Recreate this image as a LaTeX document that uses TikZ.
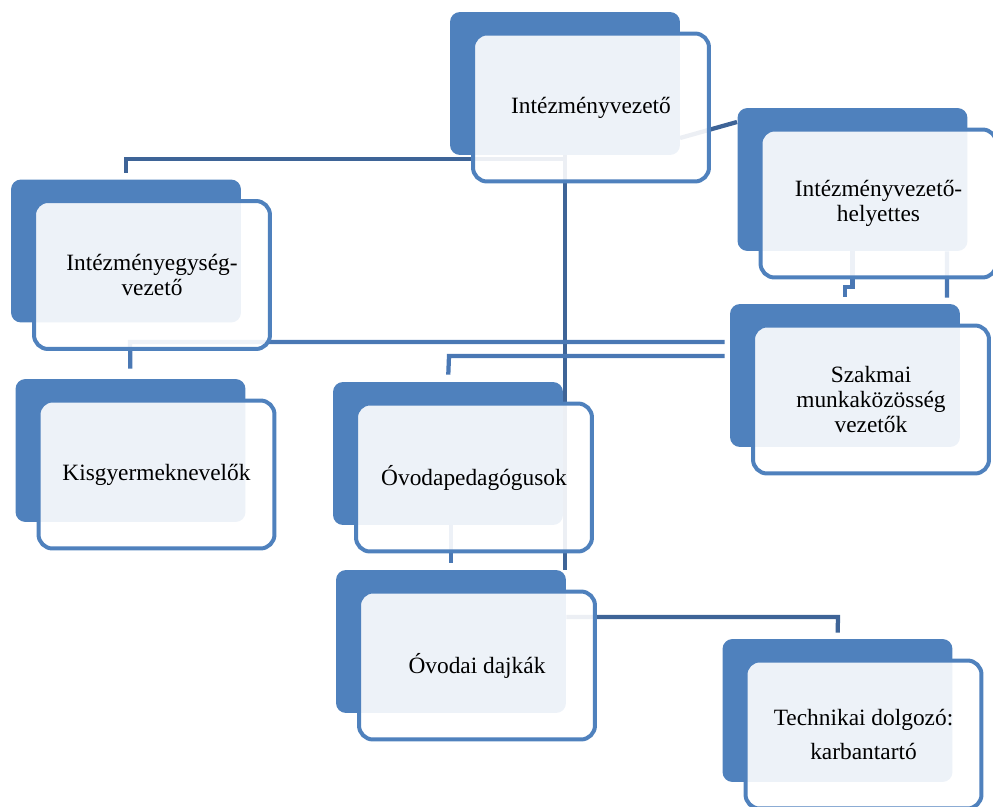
\documentclass[tikz,border=0pt]{standalone}
\usepackage{fontspec}
\setmainfont{Liberation Serif}
\usetikzlibrary{backgrounds}
\definecolor{kek}{HTML}{4F81BD}
\definecolor{vonalkek}{HTML}{3E6497}
\definecolor{vonalkek2}{HTML}{4A78B4}
\begin{document}
\begin{tikzpicture}[x=0.02cm,y=-0.02cm]
\tikzset{hatter/.style={rectangle,rounded corners=0.2cm,fill=kek,minimum width=4.6cm,minimum height=2.86cm,inner sep=0}}
\tikzset{doboz/.style={rectangle,rounded corners=0.28cm,draw=kek,line width=0.08cm,fill=white,fill opacity=0.9,text opacity=1,minimum width=4.72cm,minimum height=2.96cm,inner sep=0,align=center,font=\fontsize{13.3}{14.2}\selectfont}}
\tikzset{vonal/.style={draw=vonalkek,line width=0.085cm}}
\tikzset{vonal2/.style={draw=vonalkek2,line width=0.085cm}}
\useasboundingbox (0,0) rectangle (993,807);
\node [hatter] (a0) at (565,83.5) {};
\node [doboz] (a) at (591,107.5) {Intézményvezető};
\node [hatter] (b0) at (852.5,179.5) {};
\node [doboz] (b) at (878.5,203.5) {Intézményvezető-\\helyettes};
\node [hatter] (c0) at (845,375.5) {};
\node [doboz] (c) at (871,399.5) {Szakmai\\munkaközösség\\vezetők};
\node [hatter] (d0) at (126,251) {};
\node [doboz] (d) at (152,275) {Intézményegység-\\vezető};
\node [hatter] (e0) at (130.5,450.5) {};
\node [doboz] (e) at (156.5,474.5) {Kisgyermeknevelők};
\node [hatter] (f0) at (448,453.5) {};
\node [doboz] (f) at (474,477.5) {Óvodapedagógusok};
\node [hatter] (g0) at (451,641.5) {};
\node [doboz] (g) at (477,665.5) {Óvodai dajkák};
\node [hatter] (h0) at (837.5,710.5) {};
\node [doboz] (h) at (863.5,734.5) {Technikai dolgozó:\\[5.7pt]karbantartó};
\begin{scope}[on background layer]
\coordinate (k1) at (126,159);
\coordinate (k2) at (680,138);
\coordinate (k3) at (737,122);
\coordinate (k4) at (845,287);
\coordinate (k5) at (130,342);
\coordinate (k6) at (449,356);
\coordinate (k7) at (838,617);
\draw[vonal,shorten >=0.12cm] (a0.center) |- (k1) -- (d0.north);
\draw[vonal] (a0.center) -- (a0.center |- g0.north);
\draw[vonal] (k2) -- (k3);
\draw[vonal2,shorten >=0.14cm] (b0.south) |- (k4) -- (c0.north);
\draw[vonal2] ([xshift=1.89cm]b0.south) -- ([xshift=2.04cm,yshift=0.12cm]c0.north);
\draw[vonal2,shorten <=0.1cm,shorten >=0.2cm] (c0.west |- k5) -- (k5) -- (e0.north);
\draw[vonal2,shorten <=0.1cm,shorten >=0.14cm] (c0.west |- k6) -- (k6) -- (f0.north);
\draw[vonal2,shorten >=0.14cm] (f0.south -| g0.north) -- (g0.north);
\draw[vonal,shorten >=0.12cm] (g0.east |- k7) -- (k7) -- (h0.north);
\end{scope}
\end{tikzpicture}
\end{document}
